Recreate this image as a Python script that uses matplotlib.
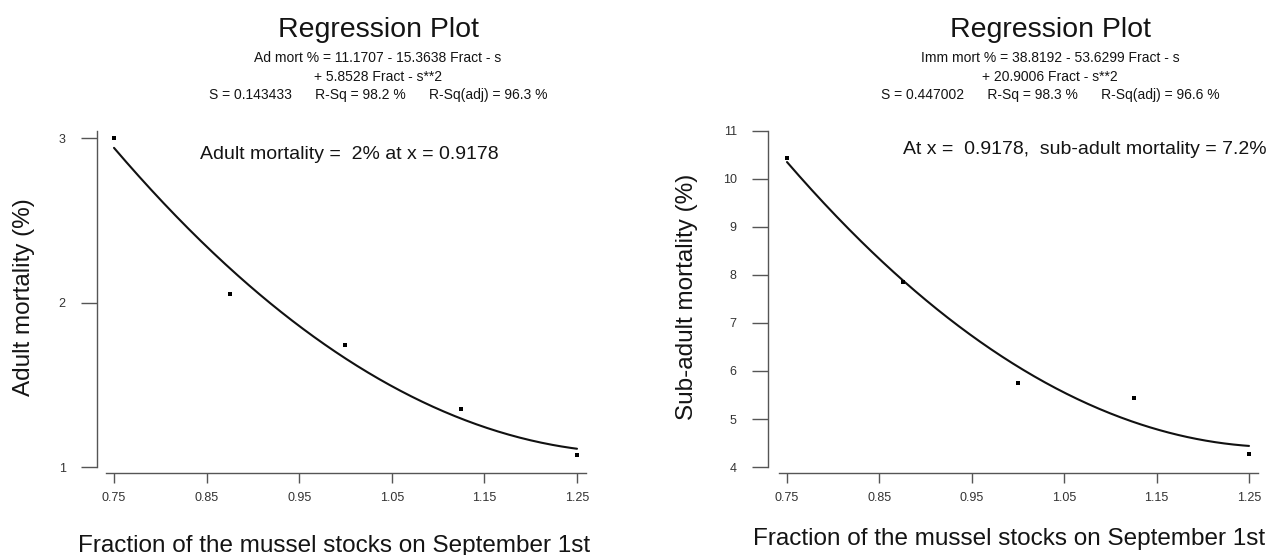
import numpy as np
import matplotlib
matplotlib.use("Agg")
import matplotlib.pyplot as plt

plt.rcParams['font.family'] = ['Liberation Sans', 'DejaVu Sans']

# Observations: fraction of mussel stocks vs mortality
fraction = [0.75, 0.875, 1.0, 1.125, 1.25]
adult_mort = [3.00, 2.05, 1.74, 1.35, 1.07]
subadult_mort = [10.44, 7.86, 5.76, 5.43, 4.27]

# Quadratic regression coefficients (intercept, linear, quadratic)
adult_coef = [11.1707, -15.3638, 5.8528]
subadult_coef = [38.8192, -53.6299, 20.9006]

x_ticks = [0.75, 0.85, 0.95, 1.05, 1.15, 1.25]
x_tick_labels = ["0.75", "0.85", "0.95", "1.05", "1.15", "1.25"]
adult_yticks = [1, 2, 3]
subadult_yticks = [4, 5, 6, 7, 8, 9, 10, 11]

title = "Regression Plot"
adult_eq = ["Ad mort % = 11.1707 - 15.3638 Fract - s",
            "+ 5.8528 Fract - s**2",
            "S = 0.143433      R-Sq = 98.2 %      R-Sq(adj) = 96.3 %"]
subadult_eq = ["Imm mort % = 38.8192 - 53.6299 Fract - s",
               "+ 20.9006 Fract - s**2",
               "S = 0.447002      R-Sq = 98.3 %      R-Sq(adj) = 96.6 %"]
adult_note = "Adult mortality =  2% at x = 0.9178"
subadult_note = "At x =  0.9178,  sub-adult mortality = 7.2%"
xlabel = "Fraction of the mussel stocks on September 1st"
adult_ylabel = "Adult mortality (%)"
subadult_ylabel = "Sub-adult mortality (%)"

W, H = 1285, 555
fig = plt.figure(figsize=(W / 100, H / 100), dpi=100)

AX_COL = "#555555"
TXT_COL = "#141414"


def place_axes(px75, px125, ya, pya, yb, pyb, xlim, ylim):
    """Create axes so that data coordinates land on the given pixel anchors."""
    sx = (px125 - px75) / 0.5
    sy = (pya - pyb) / (yb - ya)
    left = px75 + (xlim[0] - 0.75) * sx
    right = px75 + (xlim[1] - 0.75) * sx
    bottom = pya + (ya - ylim[0]) * sy
    top = pya - (ylim[1] - ya) * sy
    ax = fig.add_axes([left / W, 1 - bottom / H, (right - left) / W, (bottom - top) / H])
    ax.set_xlim(*xlim)
    ax.set_ylim(*ylim)
    return ax


def style_axes(ax, yticks, xspine_y, yspine_x, ytop):
    ax.patch.set_visible(False)
    for s in ("top", "right"):
        ax.spines[s].set_visible(False)
    ax.spines["left"].set_position(("data", yspine_x))
    ax.spines["bottom"].set_position(("data", xspine_y))
    ax.spines["left"].set_bounds(yticks[0], ytop)
    ax.spines["bottom"].set_bounds(0.741, 1.260)
    for s in ("left", "bottom"):
        ax.spines[s].set_color(AX_COL)
        ax.spines[s].set_linewidth(1.0)
    ax.set_xticks(x_ticks)
    ax.set_xticklabels(x_tick_labels)
    ax.set_yticks(yticks)
    ax.set_yticklabels([str(v) for v in yticks])
    ax.tick_params(axis="x", length=7.5, width=1.0, color=AX_COL, pad=6.5,
                   labelsize=9, labelcolor="#333333")
    ax.tick_params(axis="y", length=11.5, width=1.0, color=AX_COL, pad=11,
                   labelsize=9, labelcolor="#333333")


def draw_panel(ax, y, coef):
    xs = np.linspace(fraction[0], fraction[-1], 300)
    fit = coef[0] + coef[1] * xs + coef[2] * xs ** 2
    ax.plot(xs, fit, color="#111111", lw=1.5, solid_capstyle="round")
    ax.plot(fraction, y, "s", color="black", markersize=3.0, markeredgewidth=0)


# Left panel: adult mortality
axL = place_axes(114, 577, 1, 467, 3, 138, (0.72, 1.28), (0.9, 3.12))
style_axes(axL, adult_yticks, 0.9635, 0.7316, 3.04)
draw_panel(axL, adult_mort, adult_coef)

# Right panel: sub-adult mortality
axR = place_axes(787, 1249, 4, 467, 11, 131, (0.72, 1.28), (3.7, 11.3))
style_axes(axR, subadult_yticks, 3.875, 0.7294, 11)
draw_panel(axR, subadult_mort, subadult_coef)


def ftext(px, py, s, **kw):
    fig.text(px / W, 1 - py / H, s, color=TXT_COL, **kw)


for cx, eq in ((378, adult_eq), (1050, subadult_eq)):
    ftext(cx, 30, title, fontsize=20.5, ha="center", va="center")
    for yy, line in zip((58, 77, 95), eq):
        ftext(cx, yy, line, fontsize=10, ha="center", va="center")

ftext(349, 154, adult_note, fontsize=14, ha="center", va="center")
ftext(1085, 150, subadult_note, fontsize=14, ha="center", va="center")

ftext(334, 552, xlabel, fontsize=17.5, ha="center", va="baseline")
ftext(1009, 545, xlabel, fontsize=17.5, ha="center", va="baseline")
ftext(24, 297, adult_ylabel, fontsize=17.5, ha="center", va="center", rotation=90)
ftext(687, 297, subadult_ylabel, fontsize=17.5, ha="center", va="center", rotation=90)

fig.savefig("out.png", dpi=100, facecolor="white")
